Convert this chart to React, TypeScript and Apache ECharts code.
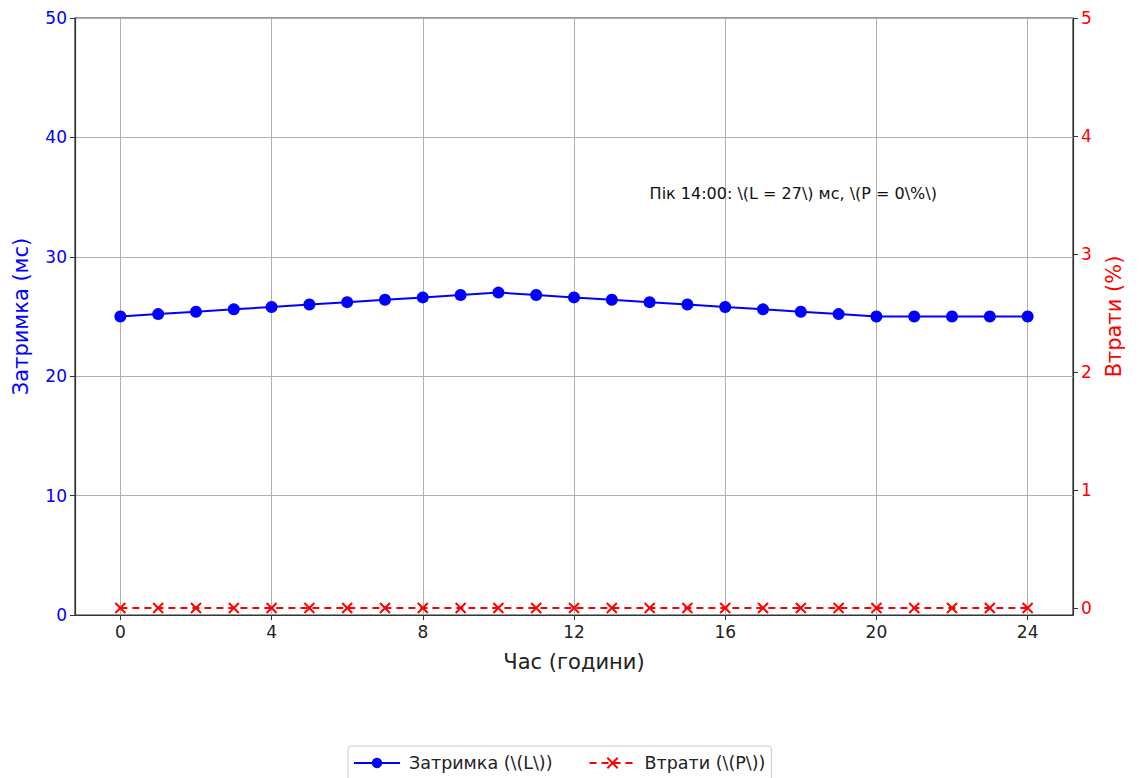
import React, { useEffect, useRef } from "react";
import * as echarts from "echarts";

const hours = [0, 1, 2, 3, 4, 5, 6, 7, 8, 9, 10, 11, 12, 13, 14, 15, 16, 17, 18, 19, 20, 21, 22, 23, 24];
const latency = [25, 25.2, 25.4, 25.6, 25.8, 26, 26.2, 26.4, 26.6, 26.8, 27, 26.8, 26.6, 26.4, 26.2, 26, 25.8, 25.6, 25.4, 25.2, 25, 25, 25, 25, 25];
const losses = [0, 0, 0, 0, 0, 0, 0, 0, 0, 0, 0, 0, 0, 0, 0, 0, 0, 0, 0, 0, 0, 0, 0, 0, 0];
const xTicks = [0, 4, 8, 12, 16, 20, 24];
const rightTicks = [0, 1, 2, 3, 4, 5];
const annotation = { x: 14, y: 35.3, text: "Пік 14:00: \\(L = 27\\) мс, \\(P = 0\\%\\)" };
const latencyName = "Затримка (\\(L\\))";
const lossName = "Втрати (\\(P\\))";

const FONT = "DejaVu Sans";

export default function App() {
  const ref = useRef<HTMLDivElement>(null);
  useEffect(() => {
    document.body.style.margin = "0";
    const chart = echarts.init(ref.current!, null, { renderer: "svg" });
    const axisLine = { show: true, onZero: false, lineStyle: { color: "#333", width: 1.2 } };
    chart.setOption({
      animation: false,
      textStyle: { fontFamily: FONT },
      grid: { left: 75, right: 66, top: 18, bottom: 163, show: true, borderColor: "#333", borderWidth: 1.2 },
      legend: {
        bottom: -10,
        left: 348,
        itemGap: 36,
        itemWidth: 46,
        itemHeight: 13,
        padding: [8, 6, 16, 5],
        borderColor: "#ccc",
        borderWidth: 1,
        borderRadius: 3,
        textStyle: { fontSize: 17.5, color: "#222", fontFamily: FONT, padding: [0, 0, 0, 4] },
        data: [latencyName, lossName],
      },
      xAxis: {
        type: "value",
        min: -1.2,
        max: 25.2,
        name: "Час (години)",
        nameLocation: "middle",
        nameGap: 36,
        nameTextStyle: { fontSize: 21, color: "#222", fontFamily: FONT },
        axisLine,
        axisTick: { show: true, inside: false, length: 5, customValues: xTicks, lineStyle: { color: "#333" } },
        axisLabel: { customValues: xTicks, fontSize: 17, color: "#222", margin: 8, fontFamily: FONT },
        splitLine: { show: true, lineStyle: { color: "#b0b0b0", width: 1 } },
      },
      yAxis: [
        {
          type: "value",
          min: 0,
          max: 50,
          interval: 10,
          name: "Затримка (мс)",
          nameLocation: "middle",
          nameGap: 44,
          nameTextStyle: { fontSize: 21, color: "blue", fontFamily: FONT },
          axisLine,
          axisTick: { show: true, inside: false, length: 5, lineStyle: { color: "#333" } },
          axisLabel: { fontSize: 17, color: "blue", margin: 8, fontFamily: FONT },
          splitLine: { show: true, lineStyle: { color: "#b0b0b0", width: 1 } },
        },
        {
          type: "value",
          min: -0.0593,
          max: 5,
          position: "right",
          name: "Втрати (%)",
          nameLocation: "middle",
          nameGap: 30,
          nameTextStyle: { fontSize: 21, color: "red", fontFamily: FONT },
          axisLine,
          axisTick: { show: true, inside: false, length: 5, customValues: rightTicks, lineStyle: { color: "#333" } },
          axisLabel: { customValues: rightTicks, fontSize: 17, color: "red", margin: 8, fontFamily: FONT },
          splitLine: { show: false },
        },
      ],
      series: [
        {
          name: latencyName,
          type: "line",
          yAxisIndex: 0,
          data: hours.map((h, i) => [h, latency[i]]),
          symbol: "circle",
          symbolSize: 12,
          itemStyle: { color: "blue" },
          lineStyle: { color: "blue", width: 2 },
          markPoint: {
            symbol: "circle",
            symbolSize: 0,
            data: [{ coord: [annotation.x, annotation.y], value: annotation.text }],
            label: {
              show: true,
              position: "right",
              distance: 0,
              formatter: annotation.text,
              fontSize: 16,
              color: "#111",
              fontFamily: FONT,
            },
          },
        },
        {
          name: lossName,
          type: "line",
          yAxisIndex: 1,
          data: hours.map((h, i) => [h, losses[i]]),
          symbol: "path://M-1,-1L1,1M1,-1L-1,1",
          symbolSize: 10,
          itemStyle: { color: "red", borderColor: "red", borderWidth: 2 },
          lineStyle: { color: "red", width: 2, type: [7, 5] },
        },
      ],
    });
    return () => chart.dispose();
  }, []);
  return <div ref={ref} style={{ width: 1139, height: 778 }} />;
}
